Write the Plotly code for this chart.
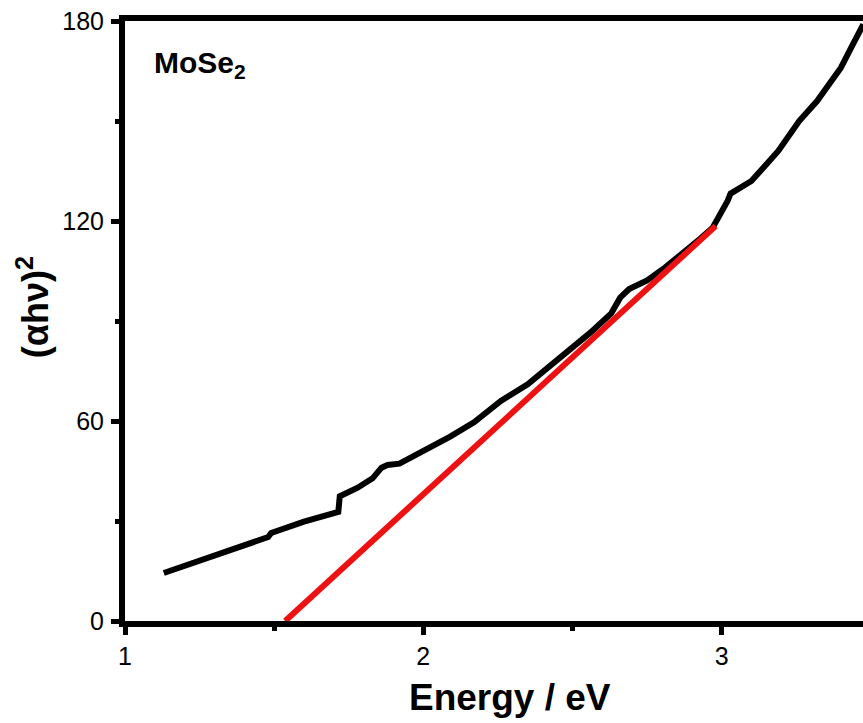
import plotly.graph_objects as go

# Measured curve (Energy in eV, (alpha h nu)^2)
energy = [1.13, 1.25, 1.37, 1.48, 1.49, 1.60, 1.715, 1.72, 1.78, 1.83, 1.86, 1.88, 1.92,
          2.00, 2.09, 2.17, 2.26, 2.35, 2.42, 2.49, 2.56, 2.63, 2.66, 2.69, 2.75, 2.81,
          2.87, 2.93, 2.97, 2.99, 3.02, 3.03, 3.10, 3.19, 3.26, 3.32, 3.40, 3.44, 3.475]
ahv2 = [14.4, 18.0, 21.8, 25.2, 26.4, 29.8, 32.7, 37.4, 40.0, 42.8, 46.0, 46.8, 47.2,
        51.0, 55.3, 59.6, 66.0, 71.0, 76.0, 81.2, 86.5, 92.3, 97.0, 99.6, 102.2, 106.0,
        110.2, 114.8, 118.0, 121.0, 126.0, 128.2, 132.0, 141.0, 150.0, 156.0, 166.0, 173.0, 179.0]

# Linear fit (Tauc extrapolation)
fit_x = [1.537, 2.98]
fit_y = [0.0, 118.5]

x_ticks = [1, 2, 3]
y_ticks = [0, 60, 120, 180]

fig = go.Figure()
fig.add_trace(go.Scatter(x=energy, y=ahv2, mode="lines",
                         line=dict(color="black", width=6), showlegend=False))
fig.add_trace(go.Scatter(x=fit_x, y=fit_y, mode="lines",
                         line=dict(color="#ee1111", width=6), showlegend=False))

font_family = "Liberation Sans, Arial, sans-serif"

fig.update_layout(
    width=863, height=723,
    margin=dict(l=125, r=0, t=21, b=102),
    plot_bgcolor="white", paper_bgcolor="white",
    font=dict(family=font_family, color="black", size=24),
    xaxis=dict(
        range=[1, 3.474], tickvals=x_ticks, ticktext=[str(v) for v in x_ticks],
        showline=True, linecolor="black", linewidth=6, mirror=True,
        ticks="outside", ticklen=8, tickwidth=5, tickcolor="black",
        minor=dict(dtick=0.5, tick0=1, ticks="outside", ticklen=4, tickwidth=5, tickcolor="black"),
        showgrid=False, zeroline=False,
        tickfont=dict(size=25),
    ),
    yaxis=dict(
        range=[0, 180], tickvals=y_ticks, ticktext=[str(v) for v in y_ticks],
        showline=True, linecolor="black", linewidth=6,
        ticks="outside", ticklen=8, tickwidth=5, tickcolor="black",
        minor=dict(dtick=30, tick0=0, ticks="outside", ticklen=4, tickwidth=5, tickcolor="black"),
        showgrid=False, zeroline=False,
        tickfont=dict(size=25), ticklabelstandoff=2,
    ),
    annotations=[
        dict(text="<b>MoSe<sub>2</sub></b>", x=0.037, y=0.927, xref="paper", yref="paper",
             xanchor="left", yanchor="middle", showarrow=False,
             font=dict(size=30, color="black")),
        dict(text="<b>Energy / eV</b>", x=0.5217, y=-0.128, xref="paper", yref="paper",
             xanchor="center", yanchor="middle", showarrow=False,
             font=dict(size=37, color="black")),
        dict(text="<b>(αhν)<sup>2</sup></b>", x=-0.1247, y=0.523, xref="paper", yref="paper",
             xanchor="center", yanchor="middle", textangle=-90, showarrow=False,
             font=dict(size=36, color="black")),
    ],
)

fig.write_html("out.html", config={"displayModeBar": False},
               post_script="document.body.style.margin='0';document.body.style.overflow='hidden';")
